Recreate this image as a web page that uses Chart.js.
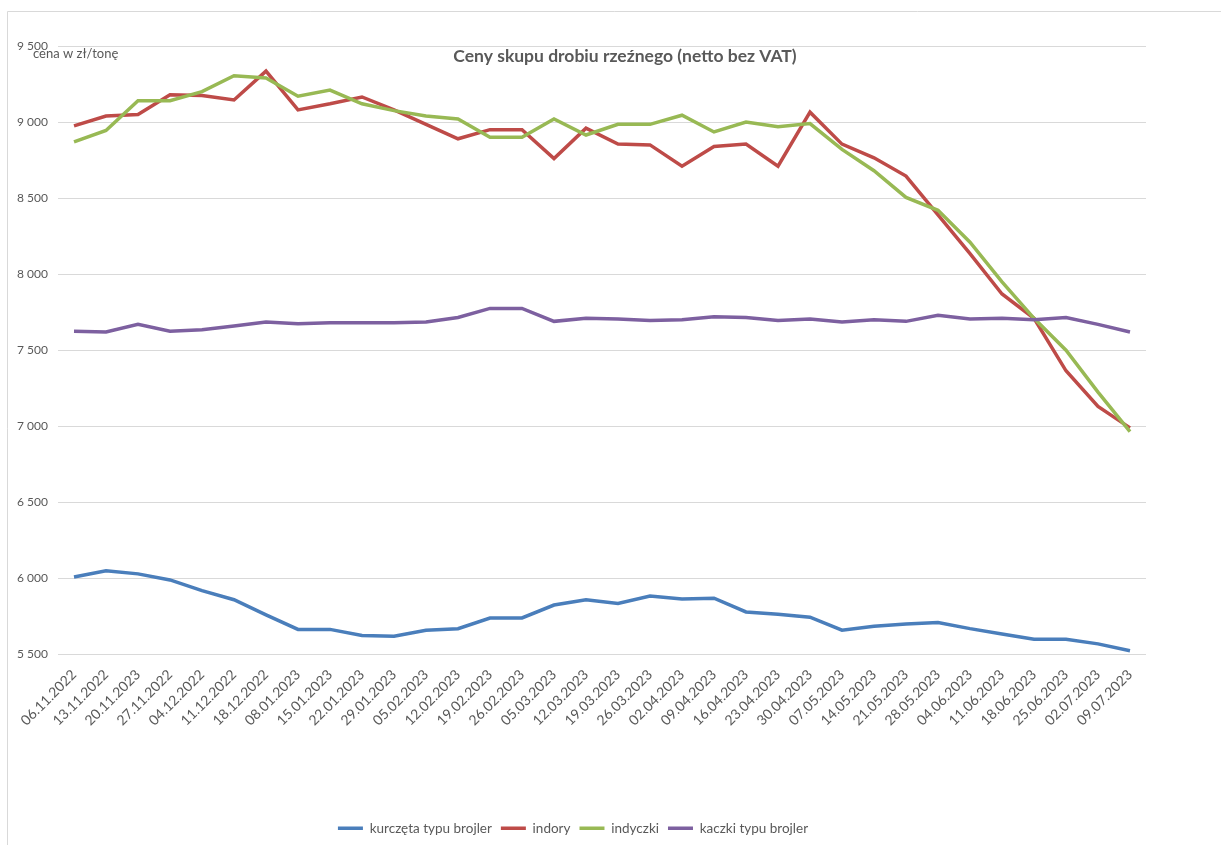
<!DOCTYPE html>
<html>
<head>
<meta charset="utf-8">
<script src="https://cdn.jsdelivr.net/npm/chart.js@4"></script>
<style>
  html, body { margin: 0; padding: 0; background: #ffffff; }
  canvas { display: block; }
</style>
</head>
<body>
<canvas id="c" width="1221" height="845" style="width:1221px;height:845px"></canvas>
<script>
const categories = ['06.11.2022','13.11.2022','20.11.2023','27.11.2022','04.12.2022','11.12.2022','18.12.2022','08.01.2023','15.01.2023','22.01.2023','29.01.2023','05.02.2023','12.02.2023','19.02.2023','26.02.2023','05.03.2023','12.03.2023','19.03.2023','26.03.2023','02.04.2023','09.04.2023','16.04.2023','23.04.2023','30.04.2023','07.05.2023','14.05.2023','21.05.2023','28.05.2023','04.06.2023','11.06.2023','18.06.2023','25.06.2023','02.07.2023','09.07.2023'];

const kurczeta = [6010,6050,6030,5990,5920,5860,5760,5665,5665,5625,5620,5660,5670,5740,5740,5825,5860,5835,5885,5865,5870,5780,5765,5745,5660,5685,5700,5710,5670,5635,5600,5600,5570,5525];
const indory   = [8975,9040,9050,9180,9175,9145,9335,9080,9120,9165,9080,8985,8890,8950,8950,8760,8960,8855,8850,8710,8840,8855,8710,9065,8855,8765,8645,8390,8135,7870,7710,7365,7130,6990];
const indyczki = [8870,8945,9140,9140,9200,9305,9290,9170,9210,9120,9075,9040,9020,8900,8900,9020,8915,8985,8985,9045,8935,9000,8970,8990,8820,8680,8505,8420,8210,7950,7710,7500,7225,6965];
const kaczki   = [7625,7620,7670,7625,7635,7660,7685,7675,7680,7680,7680,7685,7715,7775,7775,7690,7710,7705,7695,7700,7720,7715,7695,7705,7685,7700,7690,7730,7705,7710,7700,7715,7670,7620];

const seriesNames = ['kurczęta typu brojler','indory','indyczki','kaczki typu brojler'];
const seriesColors = ['#4a7ebb','#be4b48','#98b954','#7d60a0'];
const yMin = 5500, yMax = 9500, yStep = 500;
const titleText = 'Ceny skupu drobiu rzeźnego (netto bez VAT)';
const yAxisText = 'cena w zł/tonę';

const FONT = 'Lato, Carlito, "Open Sans", sans-serif';
const GRAY = '#595959';

function fmt(v) { return String(v).replace(/\B(?=(\d{3})+(?!\d))/g, ' '); }

const decor = {
  id: 'decor',
  beforeDraw(chart) {
    const ctx = chart.ctx;
    ctx.save();
    ctx.fillStyle = '#ffffff';
    ctx.fillRect(0, 0, chart.width, chart.height);
    ctx.restore();
  },
  afterDraw(chart) {
    const ctx = chart.ctx;
    ctx.save();
    ctx.strokeStyle = '#d9d9d9';
    ctx.lineWidth = 1;
    ctx.beginPath();
    ctx.moveTo(7.5, chart.height);
    ctx.lineTo(7.5, 11.5);
    ctx.lineTo(chart.width, 11.5);
    ctx.stroke();
    ctx.fillStyle = GRAY;
    ctx.textAlign = 'center';
    ctx.textBaseline = 'middle';
    ctx.font = 'bold 17.5px ' + FONT;
    ctx.fillText(titleText, 625, 56);
    ctx.textAlign = 'left';
    ctx.font = '13px ' + FONT;
    ctx.fillText(yAxisText, 33, 54);
    ctx.restore();
  }
};

new Chart(document.getElementById('c'), {
  type: 'line',
  data: {
    labels: categories,
    datasets: [kurczeta, indory, indyczki, kaczki].map((d, i) => ({
      label: seriesNames[i],
      data: d,
      borderColor: seriesColors[i],
      backgroundColor: seriesColors[i],
      borderWidth: 3.5,
      pointRadius: 0,
      pointHoverRadius: 0,
      tension: 0,
      fill: false,
      order: 4 - i
    }))
  },
  options: {
    responsive: false,
    animation: false,
    devicePixelRatio: 1,
    layout: { padding: { left: 0, right: 75, top: 46, bottom: 0 } },
    plugins: {
      title: { display: false },
      tooltip: { enabled: false },
      legend: {
        position: 'bottom',
        labels: {
          usePointStyle: true,
          pointStyle: 'line',
          pointStyleWidth: 25,
          color: GRAY,
          font: { family: FONT, size: 13.5 },
          padding: 9,
          sort: (a, b) => a.datasetIndex - b.datasetIndex
        }
      }
    },
    scales: {
      x: {
        type: 'category',
        offset: true,
        grid: { display: false },
        border: { display: false },
        ticks: {
          color: GRAY,
          font: { family: FONT, size: 14 },
          minRotation: 45,
          maxRotation: 45,
          autoSkip: false,
          padding: 4
        },
        afterFit: (s) => { s.height = 158; }
      },
      y: {
        min: yMin,
        max: yMax,
        grid: { color: '#d9d9d9', lineWidth: 1, drawTicks: false },
        border: { display: false },
        ticks: {
          stepSize: yStep,
          color: GRAY,
          font: { family: FONT, size: 12 },
          padding: 10,
          callback: (v) => fmt(v)
        },
        afterFit: (s) => { s.width = 58; }
      }
    }
  },
  plugins: [decor]
});
</script>
</body>
</html>
